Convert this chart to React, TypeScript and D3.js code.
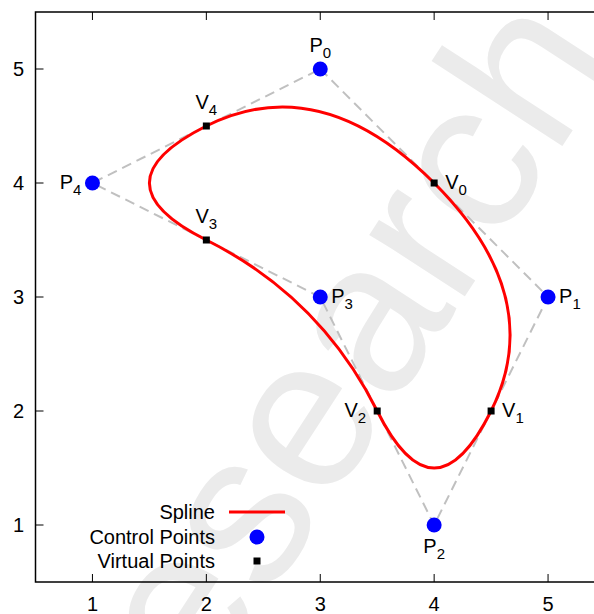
import * as d3 from 'd3';

const controlX = [3, 5, 4, 3, 1];
const controlY = [5, 3, 1, 3, 4];
const virtualX = [4, 4.5, 3.5, 2, 2];
const virtualY = [4, 2, 2, 3.5, 4.5];
const xTicks = [1, 2, 3, 4, 5];
const yTicks = [1, 2, 3, 4, 5];
const legendLabels = ['Spline', 'Control Points', 'Virtual Points'];

// where each label sits relative to its point
const controlLabelSide = ['above', 'right', 'below', 'right', 'left'];
const virtualLabelSide = ['right', 'right', 'left', 'above', 'above'];

const W = 594;
const H = 614;
const margin = { top: 12, left: 35.5, bottom: 32, right: -11 };
const FONT = '"Liberation Sans", Arial, Helvetica, sans-serif';
const FS = 20;

const x = d3.scaleLinear().domain([0.5, 5.5]).range([margin.left, W - margin.right]);
const y = d3.scaleLinear().domain([0.5, 5.5]).range([H - margin.bottom, margin.top]);

function Label({ px, py, name, idx, side }: { px: number; py: number; name: string; idx: number; side: string }) {
  let tx = px;
  let ty = py;
  let anchor = 'middle';
  if (side === 'above') { ty = py - 17; }
  if (side === 'below') { ty = py + 28; }
  if (side === 'right') { tx = px + 11; ty = py + 6; anchor = 'start'; }
  if (side === 'left') { tx = px - 11; ty = py + 6; anchor = 'end'; }
  return (
    <text x={tx} y={ty} fontSize={FS} fontFamily={FONT} textAnchor={anchor} fill="#000">
      {name}
      <tspan fontSize={15} dy={6}>{idx}</tspan>
    </text>
  );
}

export default function App() {
  const n = controlX.length;
  const cp = controlX.map((v, i) => [x(v), y(controlY[i])]);
  const vp = virtualX.map((v, i) => [x(v), y(virtualY[i])]);

  const poly = d3.line().curve(d3.curveLinearClosed)(cp as [number, number][]) || '';

  const spline = d3.path();
  spline.moveTo(vp[0][0], vp[0][1]);
  for (let i = 0; i < n; i++) {
    const c = cp[(i + 1) % n];
    const e = vp[(i + 1) % n];
    spline.quadraticCurveTo(c[0], c[1], e[0], e[1]);
  }
  spline.closePath();

  const x0 = x.range()[0];
  const x1 = x.range()[1];
  const y0 = y.range()[0];
  const y1 = y.range()[1];

  const legX = 215;
  const legY = [512, 537, 561];

  return (
    <svg width={W} height={H} style={{ position: 'absolute', left: 0, top: 0 }}>
      <rect width={W} height={H} fill="#fff" />
      <text
        transform="translate(344,378) rotate(-57)"
        fontSize={215}
        fontFamily={FONT}
        fill="#ebebeb"
        textAnchor="middle"
        dominantBaseline="middle"
      >
        research
      </text>

      {/* frame + ticks */}
      <rect x={x0} y={y1} width={x1 - x0} height={y0 - y1} fill="none" stroke="#000" strokeWidth={1.5} />
      {xTicks.map((t) => (
        <g key={'x' + t}>
          <line x1={x(t)} x2={x(t)} y1={y0} y2={y0 - 8} stroke="#000" strokeWidth={1} />
          <line x1={x(t)} x2={x(t)} y1={y1} y2={y1 + 8} stroke="#000" strokeWidth={1} />
          <text x={x(t)} y={y0 + 29} fontSize={FS} fontFamily={FONT} textAnchor="middle">{t}</text>
        </g>
      ))}
      {yTicks.map((t) => (
        <g key={'y' + t}>
          <line x1={x0} x2={x0 + 8} y1={y(t)} y2={y(t)} stroke="#000" strokeWidth={1} />
          <line x1={x1} x2={x1 - 8} y1={y(t)} y2={y(t)} stroke="#000" strokeWidth={1} />
          <text x={24} y={y(t) + 7} fontSize={FS} fontFamily={FONT} textAnchor="end">{t}</text>
        </g>
      ))}

      <path d={poly} fill="none" stroke="#c0c0c0" strokeWidth={2} strokeDasharray="10,6" />
      <path d={spline.toString()} fill="none" stroke="#ff0000" strokeWidth={3} />

      {cp.map((p, i) => (
        <circle key={'c' + i} cx={p[0]} cy={p[1]} r={7.5} fill="#0000ff" />
      ))}
      {vp.map((p, i) => (
        <rect key={'v' + i} x={p[0] - 3.5} y={p[1] - 3.5} width={7} height={7} fill="#000" />
      ))}

      {cp.map((p, i) => (
        <Label key={'cl' + i} px={p[0]} py={p[1]} name="P" idx={i} side={controlLabelSide[i]} />
      ))}
      {vp.map((p, i) => (
        <Label key={'vl' + i} px={p[0]} py={p[1]} name="V" idx={i} side={virtualLabelSide[i]} />
      ))}

      {/* legend */}
      {legendLabels.map((l, i) => (
        <text key={l} x={legX} y={legY[i] + 7} fontSize={FS} fontFamily={FONT} textAnchor="end">{l}</text>
      ))}
      <line x1={229} x2={285} y1={legY[0]} y2={legY[0]} stroke="#ff0000" strokeWidth={3} />
      <circle cx={257} cy={legY[1]} r={7.5} fill="#0000ff" />
      <rect x={257 - 3.5} y={legY[2] - 3.5} width={7} height={7} fill="#000" />
    </svg>
  );
}
